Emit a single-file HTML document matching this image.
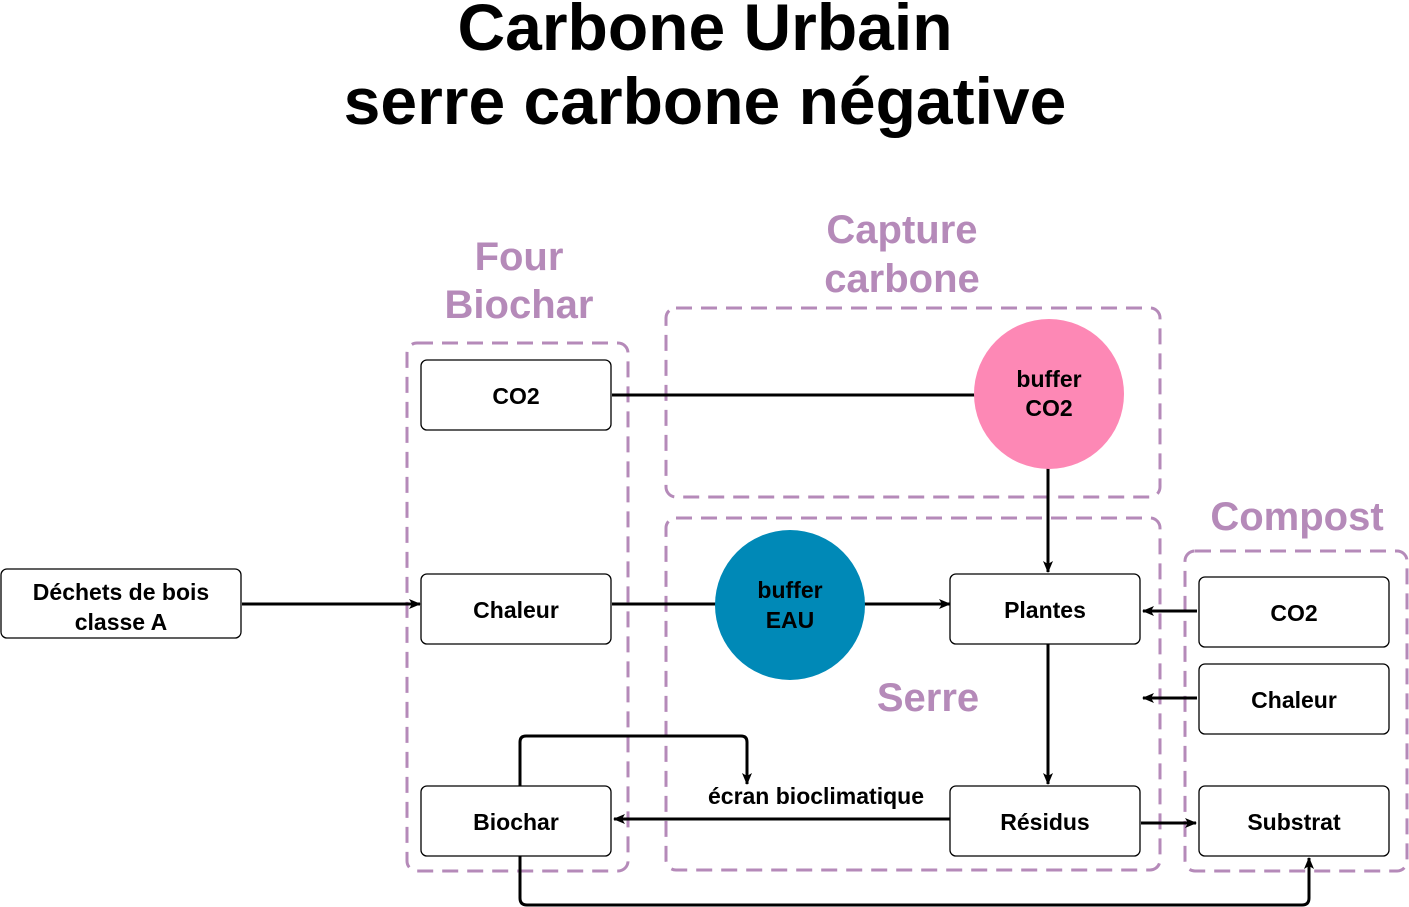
<!DOCTYPE html>
<html><head><meta charset="utf-8"><style>
html,body{margin:0;padding:0;background:#fff;}
svg{display:block;font-family:"Liberation Sans",sans-serif;}
.t{font-size:23px;text-anchor:middle;fill:#000;font-weight:bold;}
.g{font-size:40px;text-anchor:middle;fill:#b58ab9;font-weight:bold;}
.box{fill:#fff;stroke:#000;stroke-width:1.3;}
.d{fill:none;stroke:#b58ab9;stroke-width:3;stroke-dasharray:16,9;}
.l{fill:none;stroke:#000;stroke-width:3;}
</style></head><body>
<svg width="1409" height="907" viewBox="0 0 1409 907">
<defs><marker id="a" markerWidth="12" markerHeight="12" refX="11" refY="6" orient="auto" markerUnits="userSpaceOnUse"><path d="M0,1 L12,6 L0,11 L3,6z" fill="#000"/></marker></defs>
<text x="705" y="50" font-size="66" font-weight="bold" text-anchor="middle">Carbone Urbain</text>
<text x="705" y="124" font-size="66" font-weight="bold" text-anchor="middle">serre carbone négative</text>

<rect class="d" x="407" y="343" width="221" height="528" rx="10"/>
<rect class="d" x="666" y="308" width="494" height="189" rx="10"/>
<rect class="d" x="666" y="518" width="494" height="352" rx="10"/>
<rect class="d" x="1185" y="551" width="222" height="320" rx="10"/>
<text class="g" x="519" y="270">Four</text>
<text class="g" x="519" y="318">Biochar</text>
<text class="g" x="902" y="243">Capture</text>
<text class="g" x="902" y="292">carbone</text>
<text class="g" x="1297" y="530">Compost</text>
<text class="g" x="928" y="711">Serre</text>

<path class="l" d="M612,395 H975"/>
<path class="l" d="M1048,468 V572" marker-end="url(#a)"/>
<path class="l" d="M242,604 H420" marker-end="url(#a)"/>
<path class="l" d="M612,604 H716"/>
<path class="l" d="M864,604 H950" marker-end="url(#a)"/>
<path class="l" d="M1197,611 H1143" marker-end="url(#a)"/>
<path class="l" d="M1197,698 H1143" marker-end="url(#a)"/>
<path class="l" d="M1048,644 V784" marker-end="url(#a)"/>
<path class="l" d="M950,819 H614" marker-end="url(#a)"/>
<path class="l" d="M1141,823 H1196" marker-end="url(#a)"/>
<path class="l" d="M520,786 V742 Q520,736 526,736 H741 Q747,736 747,742 V784" marker-end="url(#a)"/>
<path class="l" d="M520,856 V898 Q520,905 527,905 H1302 Q1309,905 1309,898 V858" marker-end="url(#a)"/>

<rect class="box" x="1" y="569" width="240" height="69" rx="6"/>
<text class="t" x="121" y="600">Déchets de bois</text>
<text class="t" x="121" y="630">classe A</text>
<rect class="box" x="421" y="360" width="190" height="70" rx="6"/><text class="t" x="516" y="404">CO2</text>
<rect class="box" x="421" y="574" width="190" height="70" rx="6"/><text class="t" x="516" y="618">Chaleur</text>
<rect class="box" x="421" y="786" width="190" height="70" rx="6"/><text class="t" x="516" y="830">Biochar</text>
<rect class="box" x="950" y="574" width="190" height="70" rx="6"/><text class="t" x="1045" y="618">Plantes</text>
<rect class="box" x="950" y="786" width="190" height="70" rx="6"/><text class="t" x="1045" y="830">Résidus</text>
<rect class="box" x="1199" y="577" width="190" height="70" rx="6"/><text class="t" x="1294" y="621">CO2</text>
<rect class="box" x="1199" y="664" width="190" height="70" rx="6"/><text class="t" x="1294" y="708">Chaleur</text>
<rect class="box" x="1199" y="786" width="190" height="70" rx="6"/><text class="t" x="1294" y="830">Substrat</text>

<circle cx="1049" cy="394" r="75" fill="#fd88b5"/>
<text class="t" x="1049" y="387">buffer</text><text class="t" x="1049" y="416">CO2</text>
<circle cx="790" cy="605" r="75" fill="#0089b7"/>
<text class="t" x="790" y="598">buffer</text><text class="t" x="790" y="628">EAU</text>

<text class="t" x="816" y="804">écran bioclimatique</text>
</svg>
</body></html>
